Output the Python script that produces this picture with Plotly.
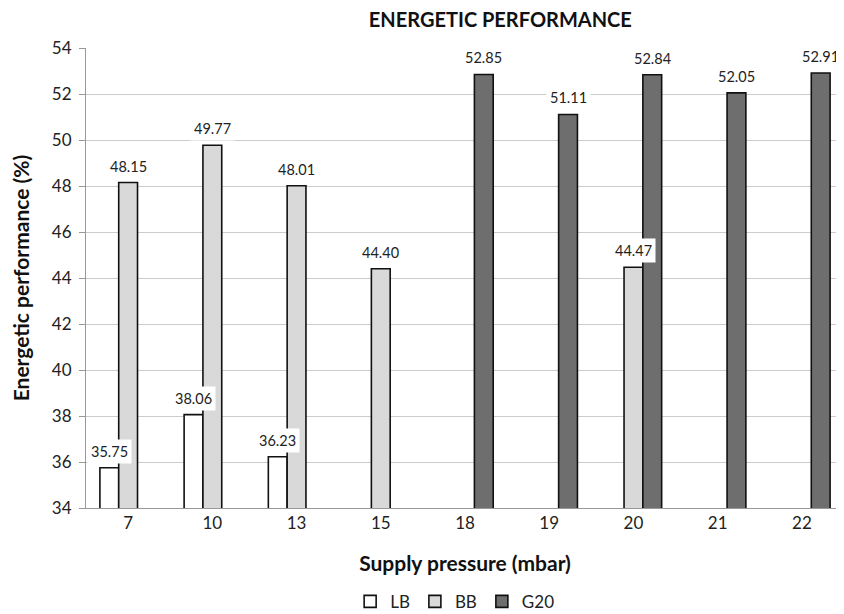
import plotly.graph_objects as go

categories = ["7", "10", "13", "15", "18", "19", "20", "21", "22"]
lb = [35.75, 38.06, 36.23, None, None, None, None, None, None]
bb = [48.15, 49.77, 48.01, 44.40, None, None, 44.47, None, None]
g20 = [None, None, None, None, 52.85, 51.11, 52.84, 52.05, 52.91]

series = [("LB", lb, "#ffffff"), ("BB", bb, "#d9d9d9"), ("G20", g20, "#6e6e6e")]

FONT = "Lato, 'Open Sans', sans-serif"
W, H = 836, 606  # page body has an 8px margin
fig = go.Figure()
for name, vals, col in series:
    fig.add_trace(go.Bar(x=categories, y=vals, name=name,
                         marker=dict(color=col, line=dict(color="#111111", width=1.6))))

bar_px = 18.8
annotations = []
for i, (name, vals, col) in enumerate(series):
    for idx, v in enumerate(vals):
        if v is None:
            continue
        annotations.append(dict(x=idx, y=v, xref="x", yref="y", text=f"{v:.2f}", showarrow=False,
                                yanchor="bottom", yshift=4, xshift=(i - 1) * bar_px,
                                bgcolor="white", borderpad=3,
                                font=dict(family=FONT, size=14.5, color="#222")))

fig.update_layout(
    width=W, height=H,
    margin=dict(l=78, r=0, t=40, b=106, autoexpand=False),
    paper_bgcolor="white", plot_bgcolor="white",
    barmode="group", bargap=0.33, bargroupgap=0,
    title=dict(text="<b>ENERGETIC PERFORMANCE</b>", x=457 / W, xanchor="center", y=1 - 12 / H, yanchor="middle",
               xref="paper", font=dict(family=FONT, size=20, color="#111")),
    font=dict(family=FONT, size=17, color="#222"),
    xaxis=dict(type="category", range=[-0.5, len(categories) - 0.5], autorange=False,
               showline=True, linecolor="#999999", linewidth=1, ticks="",
               title=dict(text="<b>Supply pressure (mbar)</b>", font=dict(size=21, color="#111"), standoff=23),
               tickfont=dict(size=17)),
    yaxis=dict(range=[34, 54], dtick=2, showgrid=True, gridcolor="#cccccc", gridwidth=1,
               showline=True, linecolor="#999999", ticks="outside", ticklen=6, tickcolor="#999999",
               ticklabelstandoff=4, zeroline=False,
               title=dict(text="<b>Energetic performance (%)</b>", font=dict(size=21, color="#111"), standoff=16),
               tickfont=dict(size=17)),
    legend=dict(orientation="h", x=0.487, xanchor="center", y=-0.204, yanchor="middle",
                font=dict(size=17), itemwidth=30, traceorder="normal"),
    annotations=annotations,
)
fig.write_html("out.html")
